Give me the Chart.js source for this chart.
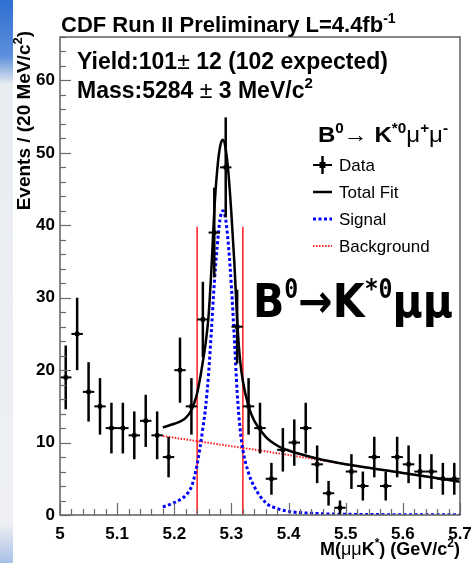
<!DOCTYPE html>
<html>
<head>
<meta charset="utf-8">
<script src="https://cdn.jsdelivr.net/npm/chart.js@4.4.1/dist/chart.umd.min.js"></script>
<style>
  html, body { margin: 0; padding: 0; background: #fff; }
  #wrap { width: 475px; height: 563px; }
</style>
</head>
<body>
<div id="wrap"><canvas id="massChart" width="475" height="563"></canvas></div>
<script>
// --- DATA ---
const massBins = [5.01, 5.03, 5.05, 5.07, 5.09, 5.11, 5.13, 5.15, 5.17, 5.19,
                  5.21, 5.23, 5.25, 5.27, 5.29, 5.31, 5.33, 5.35, 5.37, 5.39,
                  5.41, 5.43, 5.45, 5.47, 5.49, 5.51, 5.53, 5.55, 5.57, 5.59,
                  5.61, 5.63, 5.65, 5.67, 5.69];
const events   = [19, 25, 17, 15, 12, 12, 11, 13, 11, 8,
                  20, 15, 27, 39, 48, 26, 15, 12, 5, 9,
                  10, 12, 7, 3, 1, 6, 4, 8, 4, 8,
                  7, 6, 6, 5, 5];
const eventErr = [4.4, 5.0, 4.1, 3.9, 3.5, 3.5, 3.3, 3.6, 3.3, 2.8,
                  4.5, 3.9, 5.2, 6.2, 6.9, 5.1, 3.9, 3.5, 2.2, 3.0,
                  3.2, 3.5, 2.6, 1.7, 1.0, 2.4, 2.0, 2.8, 2.0, 2.8,
                  2.6, 2.4, 2.4, 2.2, 2.2];

const fitMass   = [5.18, 5.20, 5.21, 5.22, 5.23, 5.235, 5.24, 5.245, 5.25, 5.255,
                   5.26, 5.265, 5.27, 5.275, 5.28, 5.285, 5.29, 5.295, 5.30, 5.305,
                   5.31, 5.315, 5.32, 5.33, 5.34, 5.36, 5.38, 5.40, 5.45, 5.50,
                   5.55, 5.60, 5.65, 5.70];
const totalFit  = [12.1, 12.6, 12.9, 13.4, 14.5, 15.5, 16.8, 18.8, 21.2, 23.8,
                   27.5, 34, 42, 47.5, 50.8, 51.8, 50.5, 47, 41.5, 35,
                   27, 21.5, 18.5, 15, 13, 10.8, 9.6, 8.9, 7.8, 7.0,
                   6.4, 5.8, 5.2, 4.6];
const signalFit = [1.1, 1.7, 2.1, 2.7, 3.9, 5.2, 7.0, 9.3, 12, 15,
                   19.5, 25.5, 32, 37, 40.8, 42, 40.8, 37, 31.5, 24.5,
                   17, 12, 9, 5.8, 3.9, 1.7, 0.9, 0.5, 0.2, 0.1,
                   0.06, 0.04, 0.03, 0.02];
const bgMass = [5.18, 5.30, 5.40, 5.50, 5.60, 5.70];
const bgFit  = [10.9, 9.5, 8.3, 7.0, 5.8, 4.6];

const cutLow = 5.24, cutHigh = 5.32, cutTop = 39.8;

const xTicks = [5, 5.1, 5.2, 5.3, 5.4, 5.5, 5.6, 5.7];
const yTicks = [0, 10, 20, 30, 40, 50, 60];

// --- HELPERS ---
const SANS = '"Liberation Sans", Arial, sans-serif';
const toXY = (xs, ys) => xs.map((x, i) => ({ x: x, y: ys[i] }));

// draws a row of text pieces; fitWidth squeezes the row to a given width
function drawRuns(ctx, x, y, runs, align, fitWidth) {
    let w = 0;
    runs.forEach(r => { ctx.font = r.font; w += ctx.measureText(r.t).width + (r.gap || 0); });
    const sx = fitWidth ? fitWidth / w : 1;
    ctx.save();
    ctx.translate(align === 'right' ? x - w * sx : x, y);
    ctx.scale(sx, 1);
    ctx.textAlign = 'left';
    ctx.textBaseline = 'alphabetic';
    let cx = 0;
    runs.forEach(r => {
        ctx.font = r.font;
        ctx.fillText(r.t, cx, r.dy || 0);
        cx += ctx.measureText(r.t).width + (r.gap || 0);
    });
    ctx.restore();
}

const decor = {
    id: 'decor',
    beforeDraw(chart) {
        const ctx = chart.ctx;
        ctx.save();
        ctx.fillStyle = '#fff';
        ctx.fillRect(0, 0, chart.width, chart.height);
        // slide edge on the left
        const g = ctx.createLinearGradient(0, 0, 0, chart.height);
        g.addColorStop(0, '#2f6fd0');
        g.addColorStop(0.10, '#5d8fdc');
        g.addColorStop(0.15, '#e9ecf1');
        g.addColorStop(0.93, '#eef0f4');
        g.addColorStop(1, '#a8bfe6');
        ctx.fillStyle = g;
        ctx.fillRect(0, 0, 13, chart.height);
        ctx.restore();
    },
    afterDatasetsDraw(chart) {
        const ctx = chart.ctx, xs = chart.scales.x, ys = chart.scales.y;
        const a = chart.chartArea;
        ctx.save();
        // error bars
        ctx.strokeStyle = '#000';
        massBins.forEach((m, i) => {
            const px = xs.getPixelForValue(m), py = ys.getPixelForValue(events[i]);
            ctx.lineWidth = 2.5;
            ctx.beginPath();
            ctx.moveTo(px, ys.getPixelForValue(events[i] + eventErr[i]));
            ctx.lineTo(px, ys.getPixelForValue(Math.max(events[i] - eventErr[i], 0)));
            ctx.stroke();
            ctx.lineWidth = 2;
            ctx.beginPath();
            ctx.moveTo(xs.getPixelForValue(m - 0.01), py);
            ctx.lineTo(xs.getPixelForValue(m + 0.01), py);
            ctx.stroke();
        });
        // inner ticks
        ctx.strokeStyle = '#6a6a6a';
        ctx.lineWidth = 1.2;
        for (let k = 0; k <= 33; k++) {
            const py = Math.round(ys.getPixelForValue(k * 2)) + 0.5;
            const len = k % 5 === 0 ? 11 : 6;
            ctx.beginPath(); ctx.moveTo(a.left, py); ctx.lineTo(a.left + len, py); ctx.stroke();
        }
        for (let k = 0; k <= 35; k++) {
            const px = Math.round(xs.getPixelForValue(5 + k * 0.02)) + 0.5;
            const len = k % 5 === 0 ? 12 : 6;
            ctx.beginPath(); ctx.moveTo(px, a.bottom); ctx.lineTo(px, a.bottom - len); ctx.stroke();
        }
        // frame
        ctx.lineWidth = 1.6;
        ctx.strokeRect(a.left, a.top, a.right - a.left, a.bottom - a.top);
        ctx.restore();
    },
    afterDraw(chart) {
        const ctx = chart.ctx;
        ctx.save();
        ctx.fillStyle = '#000';
        const B = s => 'bold ' + s + 'px ' + SANS;
        const N = s => s + 'px ' + SANS;

        // title
        drawRuns(ctx, 61, 32, [
            { t: 'CDF Run II Preliminary L=4.4fb', font: B(22) },
            { t: '-1', font: B(14), dy: -9 }
        ]);
        // fit results
        drawRuns(ctx, 77, 69, [
            { t: 'Yield:101', font: B(23) },
            { t: '\u00B1', font: N(23) },
            { t: ' 12 (102 expected)', font: B(23) }
        ]);
        drawRuns(ctx, 77, 98, [
            { t: 'Mass:5284 ', font: B(23) },
            { t: '\u00B1', font: N(23) },
            { t: ' 3 MeV/c', font: B(23) },
            { t: '2', font: B(15), dy: -10 }
        ]);

        // legend
        drawRuns(ctx, 318, 142, [
            { t: 'B', font: B(22) },
            { t: '0', font: B(14), dy: -9 },
            { t: '\u2192 ', font: N(22) },
            { t: 'K', font: B(22) },
            { t: '*0', font: B(14), dy: -9 },
            { t: '\u03BC', font: N(22) },
            { t: '+', font: B(14), dy: -9 },
            { t: '\u03BC', font: N(22) },
            { t: '-', font: B(14), dy: -9 }
        ], 'left', 130);
        const lx0 = 313, lx1 = 332, tx = 339;
        const rows = [171, 198, 225, 252];
        const labels = ['Data', 'Total Fit', 'Signal', 'Background'];
        ctx.font = N(17);
        labels.forEach((t, i) => { ctx.fillText(t, tx, rows[i]); });
        const my = rows.map(r => r - 6);
        ctx.strokeStyle = '#000';
        ctx.lineWidth = 2;
        ctx.beginPath(); ctx.moveTo(lx0, my[0]); ctx.lineTo(lx1, my[0]); ctx.stroke();
        ctx.lineWidth = 2.5;
        ctx.beginPath(); ctx.moveTo((lx0 + lx1) / 2, my[0] - 9); ctx.lineTo((lx0 + lx1) / 2, my[0] + 9); ctx.stroke();
        ctx.fillRect((lx0 + lx1) / 2 - 3, my[0] - 3, 6, 6);
        ctx.lineWidth = 2.5;
        ctx.beginPath(); ctx.moveTo(lx0, my[1]); ctx.lineTo(lx1, my[1]); ctx.stroke();
        ctx.strokeStyle = '#0000ff'; ctx.lineWidth = 3; ctx.setLineDash([3, 2.5]);
        ctx.beginPath(); ctx.moveTo(lx0, my[2]); ctx.lineTo(lx1, my[2]); ctx.stroke();
        ctx.strokeStyle = '#ff2020'; ctx.lineWidth = 2; ctx.setLineDash([1.5, 1.5]);
        ctx.beginPath(); ctx.moveTo(lx0, my[3]); ctx.lineTo(lx1, my[3]); ctx.stroke();
        ctx.setLineDash([]);

        // big decay label
        const DJ = 'bold 46px "DejaVu Sans", sans-serif';
        const DM = 'bold 26px "DejaVu Sans Mono", monospace';
        drawRuns(ctx, 253, 317, [
            { t: 'B', font: DJ },
            { t: '0', font: DM, dy: -19 },
            { t: '\u2192', font: DJ },
            { t: 'K', font: DJ },
            { t: '*0', font: DM, dy: -19 },
            { t: '\u03BC\u03BC', font: DJ }
        ], 'left', 200);

        // axis titles
        drawRuns(ctx, 460, 555, [
            { t: 'M(', font: B(18) },
            { t: '\u03BC\u03BC', font: N(18) },
            { t: 'K', font: B(18) },
            { t: '*', font: B(12), dy: -8 },
            { t: ') (GeV/c', font: B(18) },
            { t: '2', font: B(12), dy: -8 },
            { t: ')', font: B(18) }
        ], 'right');
        ctx.translate(30, 31);
        ctx.rotate(-Math.PI / 2);
        drawRuns(ctx, 0, 0, [
            { t: 'Events / (20 MeV/c', font: B(19) },
            { t: '2', font: B(13), dy: -8 },
            { t: ')', font: B(19) }
        ], 'right');
        ctx.restore();
    }
};

// --- CHART ---
const ctx = document.getElementById('massChart').getContext('2d');
new Chart(ctx, {
    type: 'scatter',
    data: {
        datasets: [
            {
                label: 'Data',
                data: toXY(massBins, events),
                pointStyle: 'rect',
                pointRadius: 3,
                backgroundColor: '#000',
                borderColor: '#000',
                borderWidth: 0
            },
            {
                type: 'line', label: 'Total Fit',
                data: toXY(fitMass, totalFit),
                borderColor: '#000', borderWidth: 2.5,
                pointRadius: 0, cubicInterpolationMode: 'monotone', fill: false
            },
            {
                type: 'line', label: 'Signal',
                data: toXY(fitMass, signalFit),
                borderColor: '#0000ff', borderWidth: 3, borderDash: [3, 2.5],
                pointRadius: 0, cubicInterpolationMode: 'monotone', fill: false
            },
            {
                type: 'line', label: 'Background',
                data: toXY(bgMass, bgFit),
                borderColor: '#ff2020', borderWidth: 2, borderDash: [1.5, 1.5],
                pointRadius: 0, tension: 0, fill: false
            },
            {
                type: 'line', label: 'cut low',
                data: [{ x: cutLow, y: 0 }, { x: cutLow, y: cutTop }],
                borderColor: '#ff2a2a', borderWidth: 1.6, pointRadius: 0, fill: false
            },
            {
                type: 'line', label: 'cut high',
                data: [{ x: cutHigh, y: 0 }, { x: cutHigh, y: cutTop }],
                borderColor: '#ff2a2a', borderWidth: 1.6, pointRadius: 0, fill: false
            }
        ]
    },
    options: {
        responsive: false,
        animation: false,
        devicePixelRatio: 1,
        layout: { padding: { left: 0, right: 15, top: 37, bottom: 0 } },
        plugins: { legend: { display: false }, tooltip: { enabled: false } },
        scales: {
            x: {
                type: 'linear', min: 5, max: 5.7,
                afterFit: s => { s.height = 48; s.paddingLeft = 0; s.paddingRight = 0; },
                grid: { display: false, drawTicks: false },
                border: { display: false },
                afterBuildTicks: s => { s.ticks = xTicks.map(v => ({ value: v })); },
                ticks: {
                    padding: 9, maxRotation: 0, autoSkip: false,
                    color: '#000', font: { family: SANS, size: 17, weight: 'bold' },
                    callback: v => String(Math.round(v * 10) / 10)
                }
            },
            y: {
                type: 'linear', min: 0, max: 66,
                afterFit: s => { s.width = 60; s.paddingTop = 0; s.paddingBottom = 0; },
                grid: { display: false, drawTicks: false },
                border: { display: false },
                afterBuildTicks: s => { s.ticks = yTicks.map(v => ({ value: v })); },
                ticks: {
                    padding: 5,
                    color: '#000', font: { family: SANS, size: 17, weight: 'bold' }
                }
            }
        }
    },
    plugins: [decor]
});
</script>
</body>
</html>
